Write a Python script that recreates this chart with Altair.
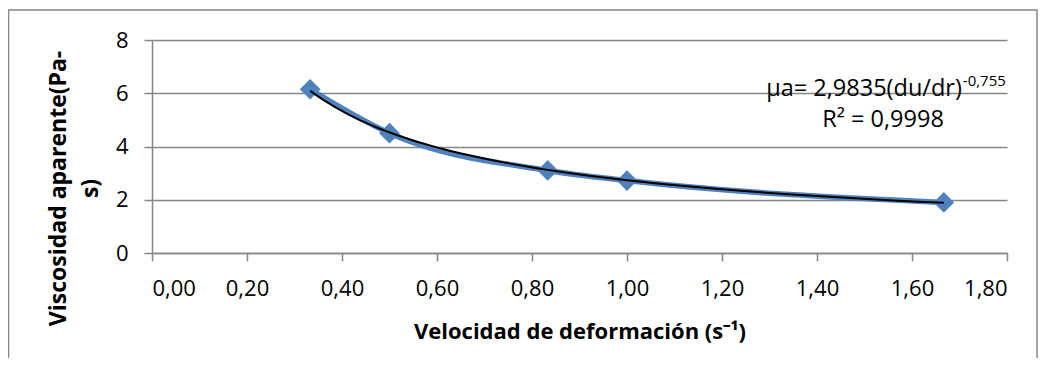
import altair as alt
import pandas as pd

# ---- data ----
shear_rate = [0.333, 0.5, 0.833, 1.0, 1.667]
viscosity = [6.15, 4.5, 3.1, 2.72, 1.9]
x_ticks = [0, 0.2, 0.4, 0.6, 0.8, 1.0, 1.2, 1.4, 1.6, 1.8]
y_ticks = [0, 2, 4, 6, 8]
eq_main = "µa= 2,9835(du/dr)"
eq_exp = "-0,755"
r2_text = "R² = 0,9998"
# annotation anchors (data units)
eq_anchor = [1.705, 5.9]
exp_anchor = [1.707, 6.27]
r2_anchor = [1.539, 4.73]

FONT = "Open Sans"
GRAY = "#868686"
BLUE = "#4F81BD"

df = pd.DataFrame({"x": shear_rate, "y": viscosity})

xscale = alt.Scale(domain=[0, 1.8], nice=False, zero=False)
yscale = alt.Scale(domain=[0, 8], nice=False)

x_axis = alt.Axis(
    values=x_ticks,
    labelExpr="replace(format(datum.value, '.2f'), '.', ',')",
    title="Velocidad de deformación (s⁻¹)",
    grid=False,
    titleBaseline="alphabetic",
    titleY=85,
)
y_axis = alt.Axis(
    values=y_ticks,
    format="d",
    title=["Viscosidad aparente(Pa-", "s)"],
    grid=True,
    titleAngle=270,
    titleAlign="center",
    titleBaseline="top",
    titleX=-105,
    titleY=148,
    titleLineHeight=32,
    titleFontSize=23,
)

X = alt.X("x:Q", scale=xscale, axis=x_axis)
Y = alt.Y("y:Q", scale=yscale, axis=y_axis)

base = alt.Chart(df)

border = alt.Chart(pd.DataFrame({"k": [0]})).mark_rect(
    fill="white", fillOpacity=0, stroke=GRAY, strokeWidth=1.5
).encode(
    x=alt.value(-143.5), x2=alt.value(885), y=alt.value(-30), y2=alt.value(340)
)

blue_line = base.mark_line(color=BLUE, strokeWidth=5.5, interpolate="monotone").encode(x=X, y=Y)
diamonds = base.mark_point(shape="diamond", filled=True, size=430, color=BLUE, opacity=1).encode(x=X, y=Y)
trend = base.transform_regression("x", "y", method="pow").mark_line(
    color="black", strokeWidth=2
).encode(x=X, y=Y)

eq_df = pd.DataFrame({"x": [eq_anchor[0]], "y": [eq_anchor[1]], "t": [eq_main]})
exp_df = pd.DataFrame({"x": [exp_anchor[0]], "y": [exp_anchor[1]], "t": [eq_exp]})
r2_df = pd.DataFrame({"x": [r2_anchor[0]], "y": [r2_anchor[1]], "t": [r2_text]})

eq_txt = alt.Chart(eq_df).mark_text(
    font=FONT, fontSize=23.5, align="right", baseline="alphabetic", color="black"
).encode(x=X, y=Y, text="t:N")
exp_txt = alt.Chart(exp_df).mark_text(
    font=FONT, fontSize=15, align="left", baseline="alphabetic", color="black"
).encode(x=X, y=Y, text="t:N")
r2_txt = alt.Chart(r2_df).mark_text(
    font=FONT, fontSize=23.5, align="center", baseline="alphabetic", color="black"
).encode(x=X, y=Y, text="t:N")

chart = (
    alt.layer(border, blue_line, diamonds, trend, eq_txt, exp_txt, r2_txt)
    .properties(
        width=855,
        height=213,
        autosize=alt.AutoSizeParams(type="none"),
        padding={"left": 144, "top": 32, "right": 31, "bottom": 105},
    )
    .configure_view(strokeWidth=0)
    .configure_axis(
        domainColor=GRAY,
        domainWidth=1.5,
        tickColor=GRAY,
        tickWidth=1.5,
        tickSize=8,
        gridColor=GRAY,
        gridWidth=1.5,
        labelFont=FONT,
        labelFontSize=22,
        labelColor="black",
        labelPadding=17,
        titleFont=FONT,
        titleFontSize=22,
        titleFontWeight="bold",
        titleColor="black",
    )
    .configure_axisY(labelPadding=16)
)

chart.save("out.html", embed_options={"renderer": "svg", "actions": False})
